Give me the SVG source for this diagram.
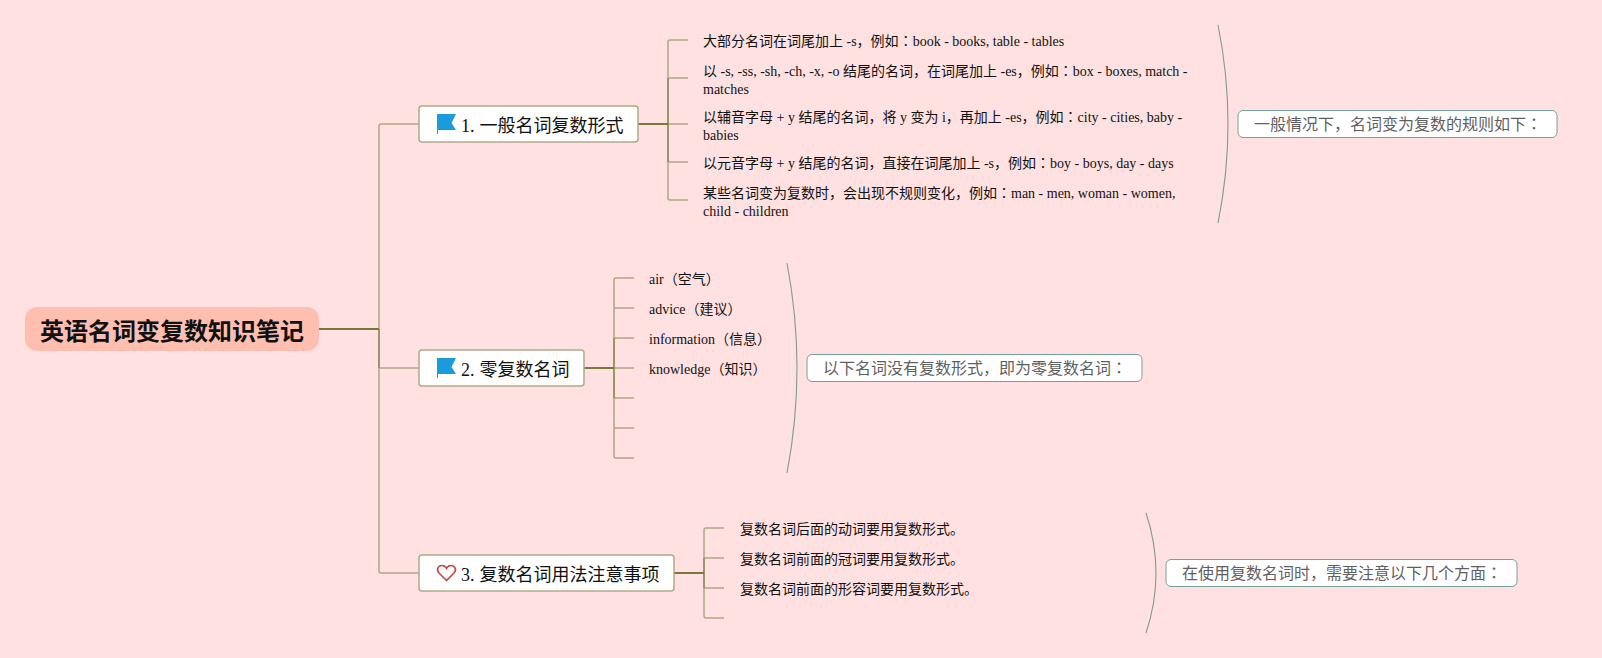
<svg xmlns="http://www.w3.org/2000/svg" width="1602" height="658" viewBox="0 0 1602 658">
<style>
.t{font-family:"Liberation Serif","Noto Sans CJK SC",serif;fill:#111}
.s{font-size:14px}
.m{font-size:18px}
.j{font-family:"Noto Sans CJK JP",sans-serif}
.n{fill:#fff;stroke:#b1a98a;stroke-width:1.5}
.b{fill:#fff;stroke:#76a09a;stroke-width:1}
.sum{font-family:"Liberation Serif","Noto Sans CJK SC",serif;font-size:16px;fill:#5f5f5f}
.l{fill:none;stroke:#b0a585;stroke-width:1.5}
.d{fill:none;stroke:#737a3c;stroke-width:2}
.v{fill:none;stroke:#8c8c5c;stroke-width:1.5}
.c{fill:none;stroke:#7f9c8f;stroke-width:1.1}
</style>
<rect width="1602" height="658" fill="#ffe1e1"/>
<g id="connectors">
<path class="l" d="M419 124H381Q379 124 379 126V571Q379 573 381 573H419M379 368H419"/>
<path class="v" d="M379 329V368"/>
<path class="d" d="M319 329H379"/>
<path class="l" d="M688 40H670Q668 40 668 42V198Q668 200 670 200H688M668 78H688M668 124H688M668 162H688"/>
<path class="v" d="M668 78V162"/>
<path class="d" d="M638 124H668"/>
<path class="l" d="M634 278H616Q614 278 614 280V456Q614 458 616 458H634M614 308H634M614 338H634M614 368H634M614 398H634M614 428H634"/>
<path class="v" d="M614 338V398"/>
<path class="d" d="M584 368H614"/>
<path class="l" d="M724 528H706Q704 528 704 530V616Q704 618 706 618H724M704 558H724M704 588H724"/>
<path class="v" d="M704 558V588"/>
<path class="d" d="M674 573H704"/>
<path class="c" d="M1218 25Q1238 124 1218 223"/>
<path class="c" d="M787 263Q807 368 787 473"/>
<path class="c" d="M1146 513Q1166 573 1146 633"/>
</g>
<g id="root"><rect x="25" y="307" width="294" height="44" rx="12" fill="#ffbfb0"/>
<text x="40" y="340" font-family="'Noto Sans CJK SC',sans-serif" font-weight="700" font-size="24" fill="#111">英语名词变复数知识笔记</text></g>
<g id="node1"><rect class="n" x="419" y="106" width="219" height="36" rx="3"/>
<path d="M437 114H456L451.500 123L456 130H438V134H437Z" fill="#1a9bdc"/>
<text class="t m" x="461" y="132">1. <tspan x="479.500">一般名词复数形式</tspan></text></g>
<g id="node2"><rect class="n" x="419" y="350" width="165" height="36" rx="3"/>
<path d="M437 358H456L451.500 367L456 374H438V378H437Z" fill="#1a9bdc"/>
<text class="t m" x="461" y="376">2. <tspan x="479.500">零复数名词</tspan></text></g>
<g id="node3"><rect class="n" x="419" y="555" width="255" height="36" rx="3"/>
<path d="M446.500 580.500L439 573C435.500 568.500 439 565.500 442 565.500C444 565.500 445.500 566.500 446.500 568.500C447.500 566.500 449 565.500 451 565.500C454 565.500 457.500 568.500 454 573Z" fill="none" stroke="#c9483c" stroke-width="1.6"/>
<text class="t m" x="461" y="581">3. <tspan x="479.500">复数名词用法注意事项</tspan></text></g>
<g id="leaf1-1"><text class="t s" x="703" y="46">大部分名词在词尾加上 -s，例如<tspan class="j">：</tspan>book - books, table - tables</text></g>
<g id="leaf1-2"><text class="t s" x="703" y="76">以 -s, -ss, -sh, -ch, -x, -o 结尾的名词，在词尾加上 -es，例如<tspan class="j">：</tspan>box - boxes, match -</text><text class="t s" x="703" y="94">matches</text></g>
<g id="leaf1-3"><text class="t s" x="703" y="122">以辅音字母 + y 结尾的名词，将 y 变为 i，再加上 -es，例如<tspan class="j">：</tspan>city - cities, baby -</text><text class="t s" x="703" y="140">babies</text></g>
<g id="leaf1-4"><text class="t s" x="703" y="168">以元音字母 + y 结尾的名词，直接在词尾加上 -s，例如<tspan class="j">：</tspan>boy - boys, day - days</text></g>
<g id="leaf1-5"><text class="t s" x="703" y="198">某些名词变为复数时，会出现不规则变化，例如<tspan class="j">：</tspan>man - men, woman - women,</text><text class="t s" x="703" y="216">child - children</text></g>
<g id="leaf2-1"><text class="t s" x="649" y="284">air（空气）</text></g>
<g id="leaf2-2"><text class="t s" x="649" y="314">advice（建议）</text></g>
<g id="leaf2-3"><text class="t s" x="649" y="344">information（信息）</text></g>
<g id="leaf2-4"><text class="t s" x="649" y="374">knowledge（知识）</text></g>
<g id="leaf3-1"><text class="t s" x="740" y="534">复数名词后面的动词要用复数形式。</text></g>
<g id="leaf3-2"><text class="t s" x="740" y="564">复数名词前面的冠词要用复数形式。</text></g>
<g id="leaf3-3"><text class="t s" x="740" y="594">复数名词前面的形容词要用复数形式。</text></g>
<g id="summary1"><rect class="b" x="1238" y="110.500" width="319" height="27" rx="5"/><text class="sum" x="1254" y="130">一般情况下，名词变为复数的规则如下<tspan class="j">：</tspan></text></g>
<g id="summary2"><rect class="b" x="807" y="354.500" width="335" height="27" rx="5"/><text class="sum" x="823" y="374">以下名词没有复数形式，即为零复数名词<tspan class="j">：</tspan></text></g>
<g id="summary3"><rect class="b" x="1166" y="559.500" width="351" height="27" rx="5"/><text class="sum" x="1182" y="579">在使用复数名词时，需要注意以下几个方面<tspan class="j">：</tspan></text></g>
</svg>
